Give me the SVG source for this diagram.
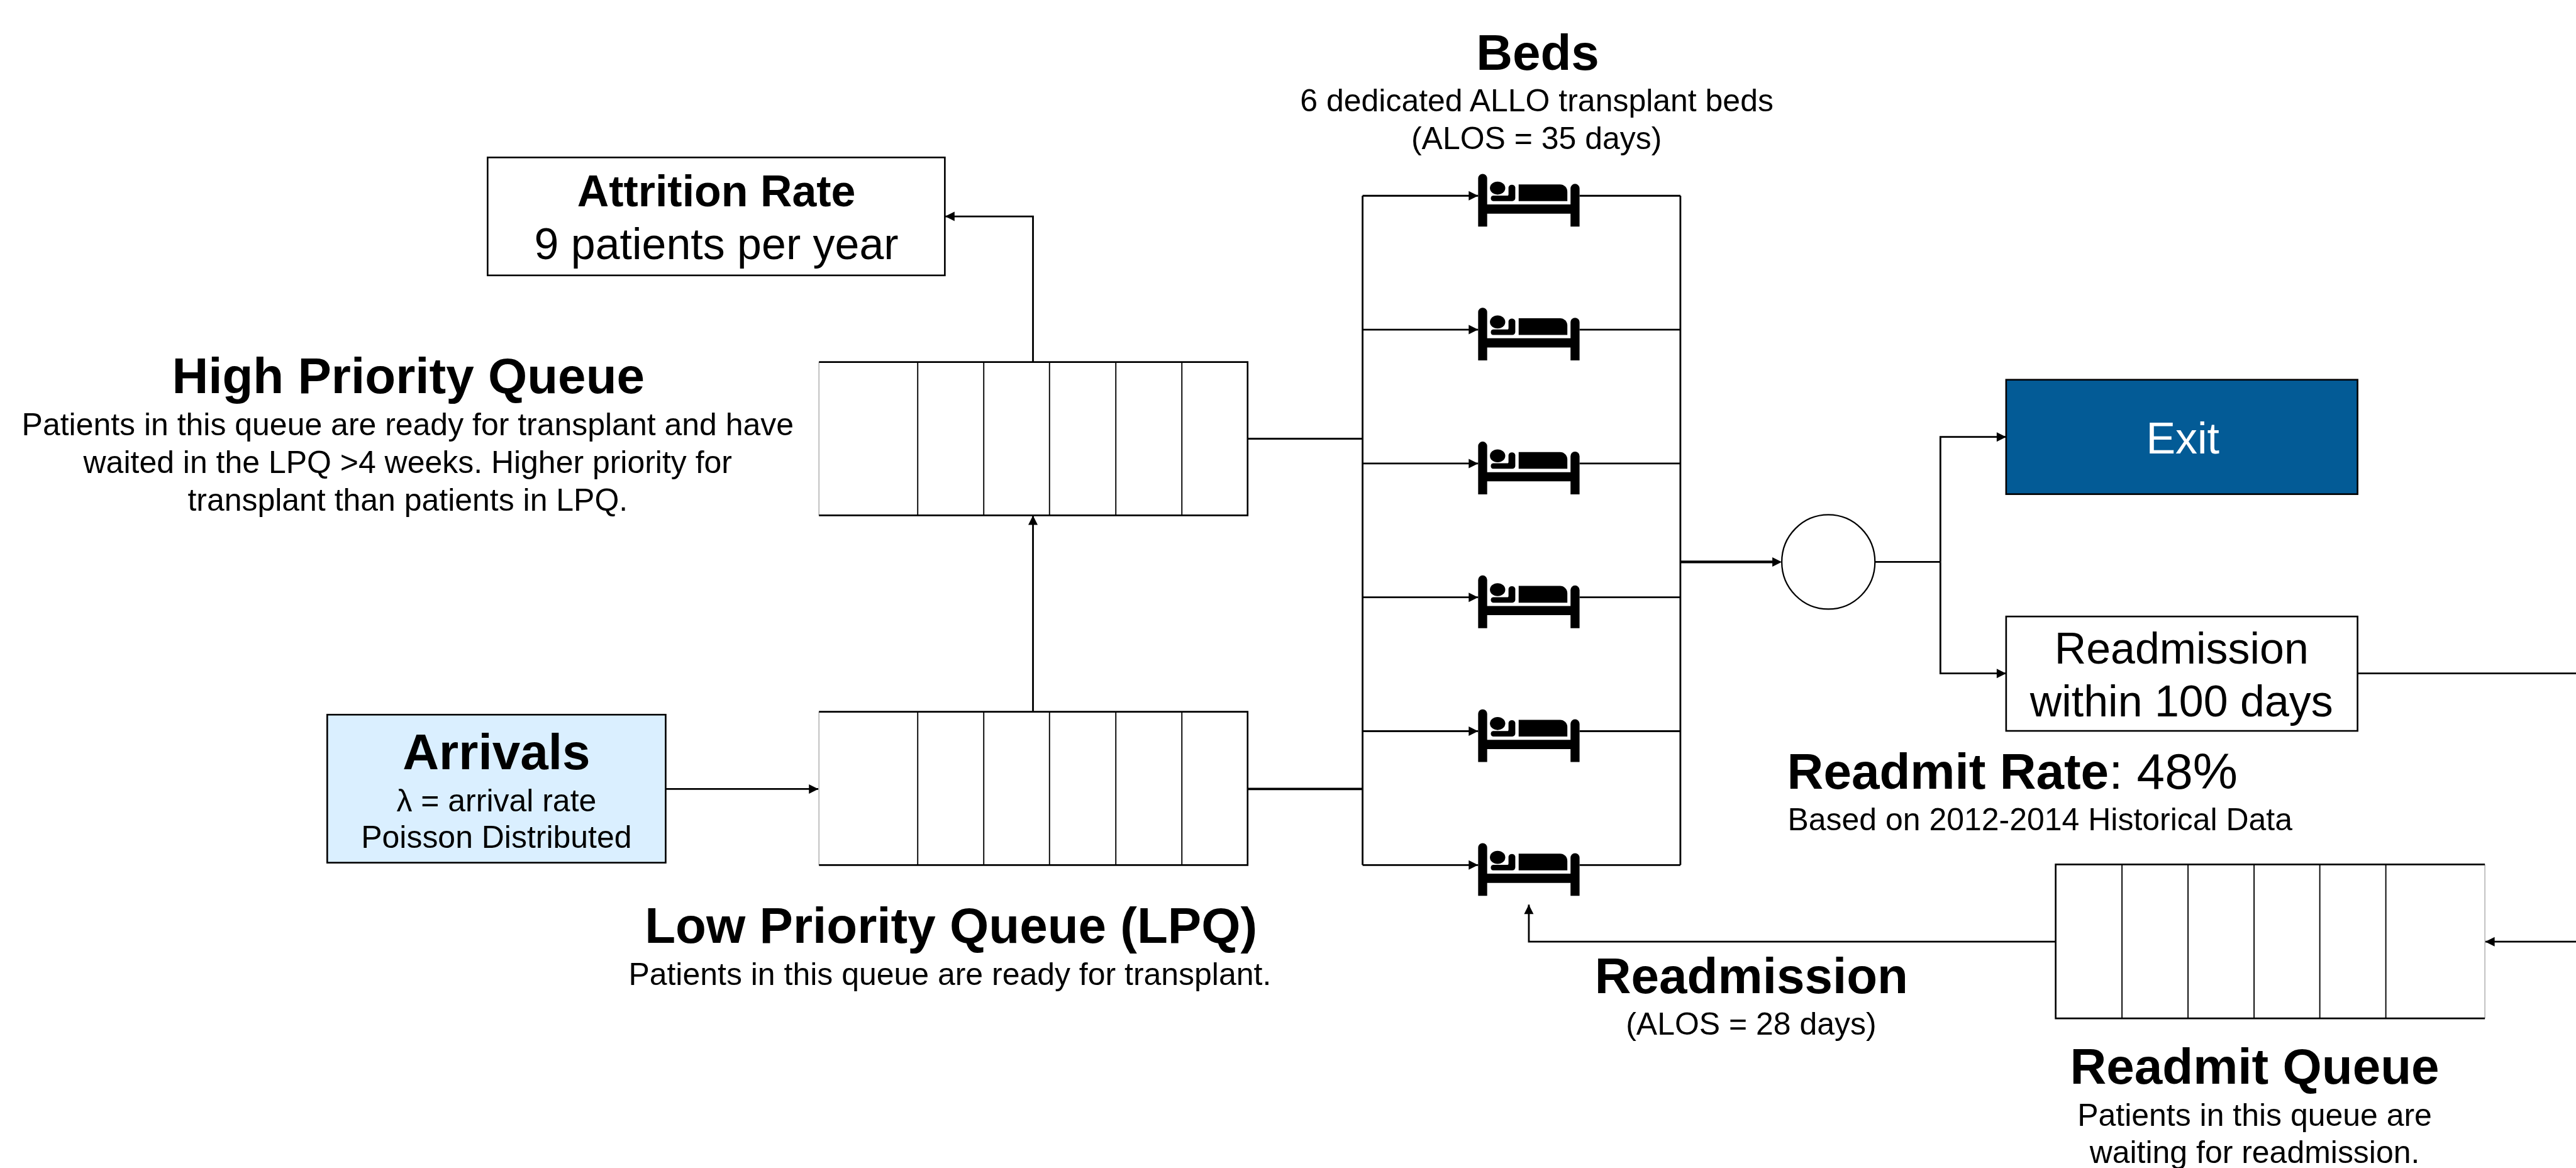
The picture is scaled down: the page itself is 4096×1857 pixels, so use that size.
<svg xmlns="http://www.w3.org/2000/svg" width="4096" height="1857" viewBox="0 0 4096 1857">
<style>
text{font-family:"Liberation Sans",Arial,sans-serif;fill:#000;text-anchor:middle}
.t{font-size:85.4px;font-weight:700}
.s{font-size:53.3px}
.m{font-size:74.6px}
.mb{font-size:74.6px;font-weight:700}
.box{fill:#fff;stroke:#000;stroke-width:2.8}
.q{fill:#fff;stroke:none}
.ql{fill:none;stroke:#000;stroke-width:2.8}
.qd{fill:none;stroke:#000;stroke-width:2}
.qf{fill:none;stroke:#aaa;stroke-width:1.5}
.c{fill:none;stroke:#000;stroke-width:3}
.a{marker-end:url(#arrow)}
</style>
<defs>
<marker id="arrow" markerUnits="userSpaceOnUse" markerWidth="16" markerHeight="16" refX="16" refY="8" orient="auto" overflow="visible"><path d="M0 0L16 8L0 16Z" fill="#000"/></marker>
<g id="bedIcon">
<path d="M0 89.3V7.5A7.5 7.5 0 0 1 15.3 7.5V51.7H156.7V24.5A7.6 7.6 0 0 1 172 24.5V89.3H156.7V67.3H15.3V89.3Z"/>
<ellipse cx="33" cy="24" rx="13" ry="11"/>
<path d="M25.5 36.7H49.5C51 36.7 51.5 36 51.5 34V22.5A6 6 0 0 1 63 22.5V41A5 5 0 0 1 58 46H25.5A4.7 4.7 0 0 1 25.5 36.7Z"/>
<path d="M68.7 17.7H139A12.3 12.3 0 0 1 151.3 30V46H68.7Z"/>
</g>
</defs>
<rect width="4096" height="1857" fill="#fff"/>
<g transform="scale(0.93751)">
<g id="connectors">
<path class="c a" d="M1752 614V367H1603"/>
<path class="c a" d="M1752 1207V874"/>
<path class="c a" d="M1129 1338H1388"/>
<path class="c" d="M2116 744H2311"/>
<path class="c" style="stroke-width:4" d="M2116 1338H2311"/>
<path class="c" d="M2311 332V1467M2850 332V1467"/>
<path class="c a" d="M2311 332H2507"/>
<path class="c a" d="M2311 559H2507"/>
<path class="c a" d="M2311 786H2507"/>
<path class="c a" d="M2311 1013H2507"/>
<path class="c a" d="M2311 1240H2507"/>
<path class="c a" d="M2311 1467H2507"/>
<path class="c" d="M2679 332H2850M2679 559H2850M2679 786H2850M2679 1013H2850M2679 1240H2850M2679 1467H2850"/>
<path class="c" style="stroke-width:4.5" d="M2850 953H3008"/>
<path d="M3006 945L3022 953L3006 961Z" fill="#000"/>
<path class="c" d="M3180 953H3291"/>
<path class="c a" d="M3291 953V741H3402.5"/>
<path class="c a" d="M3291 953V1142H3402.5"/>
<path class="c" d="M3998 1142H4369"/>
<path class="c a" d="M4369 1597H4215"/>
<path class="c a" d="M3486 1597H2593V1534"/>
</g>
<g id="attrition">
<rect class="box" x="827" y="267" width="775.5" height="200"/>
<text class="mb" x="1215" y="349.5">Attrition Rate</text>
<text class="m" x="1215" y="439.5">9 patients per year</text>
</g>
<g id="high-priority-queue">
<rect class="q" x="1389" y="614" width="727" height="260"/>
<path class="qf" d="M1389 614V874"/>
<path class="ql" d="M1389 614H2116V874H1389"/>
<path class="qd" d="M1556.5 614V874M1668.5 614V874M1780 614V874M1892.5 614V874M2004.5 614V874"/>
<text class="t" x="692.5" y="667">High Priority Queue</text>
<text class="s" x="691.5" y="738">Patients in this queue are ready for transplant and have</text>
<text class="s" x="691.5" y="802">waited in the LPQ &gt;4 weeks. Higher priority for</text>
<text class="s" x="691.5" y="866">transplant than patients in LPQ.</text>
</g>
<g id="arrivals">
<rect x="555" y="1212" width="574" height="251" fill="#daefff" stroke="#000" stroke-width="2.8"/>
<text class="t" x="842" y="1304.5">Arrivals</text>
<text class="s" x="842" y="1375.5">λ = arrival rate</text>
<text class="s" x="842" y="1438">Poisson Distributed</text>
</g>
<g id="low-priority-queue">
<rect class="q" x="1389" y="1207" width="727" height="260"/>
<path class="qf" d="M1389 1207V1467"/>
<path class="ql" d="M1389 1207H2116V1467H1389"/>
<path class="qd" d="M1556.5 1207V1467M1668.5 1207V1467M1780 1207V1467M1892.5 1207V1467M2004.5 1207V1467"/>
<text class="t" x="1613" y="1599">Low Priority Queue (LPQ)</text>
<text class="s" x="1611" y="1670">Patients in this queue are ready for transplant.</text>
</g>
<g id="beds">
<text class="t" x="2608" y="118">Beds</text>
<text class="s" x="2606.5" y="189">6 dedicated ALLO transplant beds</text>
<text class="s" x="2606" y="253">(ALOS = 35 days)</text>
<use href="#bedIcon" x="2507" y="295"/>
<use href="#bedIcon" x="2507" y="522"/>
<use href="#bedIcon" x="2507" y="749"/>
<use href="#bedIcon" x="2507" y="976"/>
<use href="#bedIcon" x="2507" y="1203"/>
<use href="#bedIcon" x="2507" y="1430"/>
</g>
<g id="decision">
<ellipse cx="3101" cy="953" rx="79" ry="80" fill="#fff" stroke="#000" stroke-width="2.4"/>
</g>
<g id="exit">
<rect x="3402.5" y="644" width="596" height="194" fill="#035b96" stroke="#000" stroke-width="2.8"/>
<text class="m" x="3702" y="769" style="fill:#fff">Exit</text>
</g>
<g id="readmission-box">
<rect class="box" x="3402.5" y="1045.5" width="596" height="194"/>
<text class="m" x="3700" y="1125.5">Readmission</text>
<text class="m" x="3700" y="1215">within 100 days</text>
</g>
<g id="readmit-rate">
<text x="3031" y="1338" style="text-anchor:start;font-size:85.4px"><tspan font-weight="700">Readmit Rate</tspan>: 48%</text>
<text class="s" x="3032" y="1408.5" style="text-anchor:start">Based on 2012-2014 Historical Data</text>
</g>
<g id="readmission-label">
<text class="t" x="2970.5" y="1684">Readmission</text>
<text class="s" x="2970" y="1755">(ALOS = 28 days)</text>
</g>
<g id="readmit-queue">
<rect class="q" x="3486.5" y="1466" width="728" height="261"/>
<path class="qf" d="M4214.5 1466V1727"/>
<path class="ql" d="M4214.5 1466H3486.5V1727H4214.5"/>
<path class="qd" d="M3599 1466V1727M3711 1466V1727M3823 1466V1727M3934.5 1466V1727M4046.5 1466V1727"/>
<text class="t" x="3824" y="1838">Readmit Queue</text>
<text class="s" x="3824" y="1909">Patients in this queue are</text>
<text class="s" x="3824" y="1972.5">waiting for readmission.</text>
</g>
</g>
</svg>
